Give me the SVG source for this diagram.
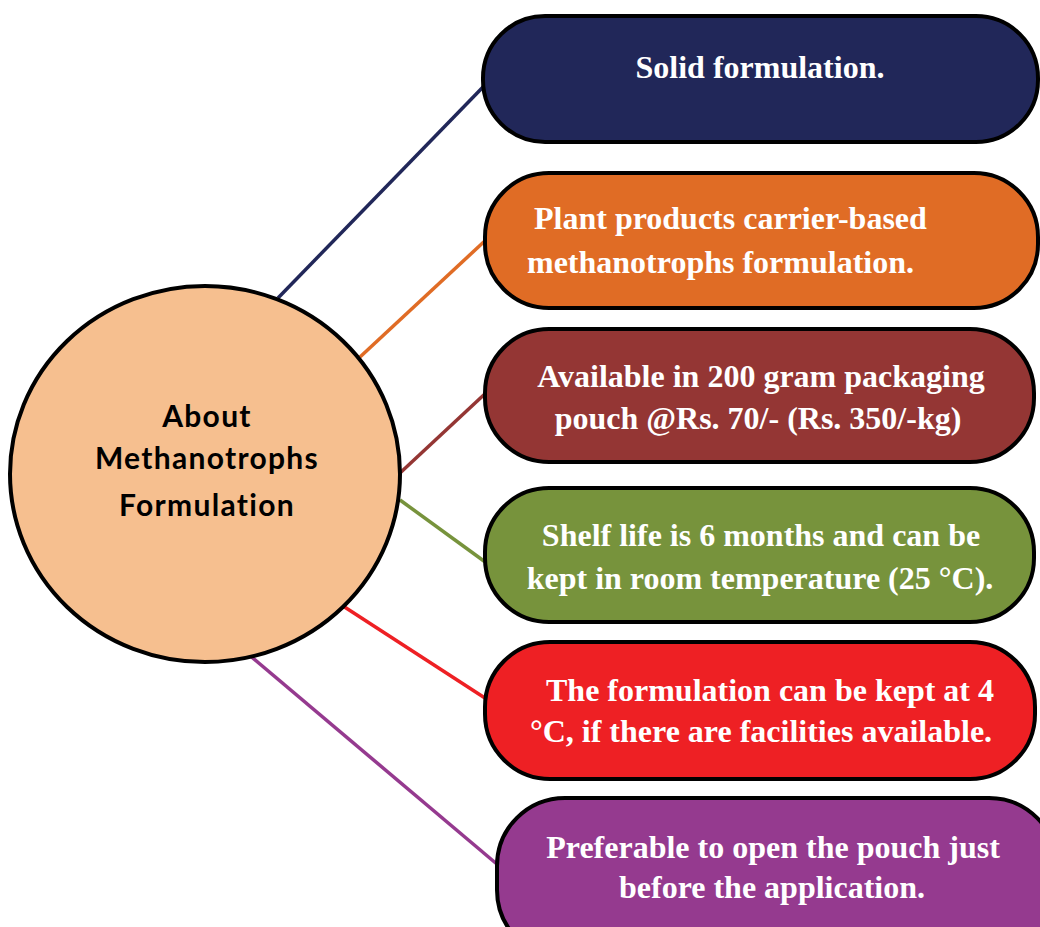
<svg xmlns="http://www.w3.org/2000/svg" width="1040" height="927" viewBox="0 0 1040 927">
  <style>
    .pill { stroke: #000; stroke-width: 4; }
    .lbl { font-family: "Liberation Serif", "Times New Roman", serif; font-weight: bold; font-size: 32px; fill: #fff; }
    .hub { font-family: Lato, "Liberation Sans", sans-serif; font-weight: bold; font-size: 30px; letter-spacing: 1.3px; fill: #000; text-anchor: middle; }
    .conn { stroke-width: 3.5; fill: none; }
  </style>
  <rect width="1040" height="927" fill="#fff"/>

  <!-- connectors from the hub to each item -->
  <g id="connectors">
    <line class="conn" x1="278" y1="298" x2="484" y2="86" stroke="#212759"/>
    <line class="conn" x1="360" y1="357" x2="488" y2="238" stroke="#E06C25"/>
    <line class="conn" x1="400" y1="473" x2="488" y2="391" stroke="#943634"/>
    <line class="conn" x1="400" y1="500" x2="488" y2="564" stroke="#77933C"/>
    <line class="conn" x1="343" y1="606" x2="488" y2="700" stroke="#EE2024"/>
    <line class="conn" x1="248" y1="654" x2="498" y2="865" stroke="#953A8F"/>
  </g>

  <!-- central hub -->
  <g id="hub">
    <ellipse cx="205" cy="474" rx="195" ry="188" fill="#F6BF8F" stroke="#000" stroke-width="4"/>
    <text class="hub" x="207" y="427">About</text>
    <text class="hub" x="207" y="469">Methanotrophs</text>
    <text class="hub" x="207" y="516">Formulation</text>
  </g>

  <g id="item-solid">
    <rect class="pill" x="483" y="16" width="555" height="126" rx="62" fill="#212759"/>
    <text class="lbl" x="760" y="78" text-anchor="middle">Solid formulation.</text>
  </g>

  <g id="item-carrier">
    <rect class="pill" x="485" y="173" width="553" height="135" rx="64" fill="#E06C25"/>
    <text class="lbl" x="534" y="229">Plant products carrier-based</text>
    <text class="lbl" x="527" y="273">methanotrophs formulation.</text>
  </g>

  <g id="item-packaging">
    <rect class="pill" x="485" y="329" width="549" height="133" rx="64" fill="#943634"/>
    <text class="lbl" x="761" y="387" text-anchor="middle">Available in 200 gram packaging</text>
    <text class="lbl" x="758" y="429" text-anchor="middle">pouch @Rs. 70/- (Rs. 350/-kg)</text>
  </g>

  <g id="item-shelf-life">
    <rect class="pill" x="485" y="488" width="549" height="134" rx="64" fill="#77933C"/>
    <text class="lbl" x="761" y="546" text-anchor="middle">Shelf life is 6 months and can be</text>
    <text class="lbl" x="760" y="589" text-anchor="middle">kept in room temperature (25 °C).</text>
  </g>

  <g id="item-storage">
    <rect class="pill" x="485" y="642" width="550" height="137" rx="65" fill="#EE2024"/>
    <text class="lbl" x="770" y="701" text-anchor="middle">The formulation can be kept at 4</text>
    <text class="lbl" x="761" y="742" text-anchor="middle">°C, if there are facilities available.</text>
  </g>

  <g id="item-opening">
    <rect class="pill" x="497" y="798" width="560" height="160" rx="68" fill="#953A8F"/>
    <text class="lbl" x="773" y="858" text-anchor="middle">Preferable to open the pouch just</text>
    <text class="lbl" x="772" y="898" text-anchor="middle">before the application.</text>
  </g>
</svg>
